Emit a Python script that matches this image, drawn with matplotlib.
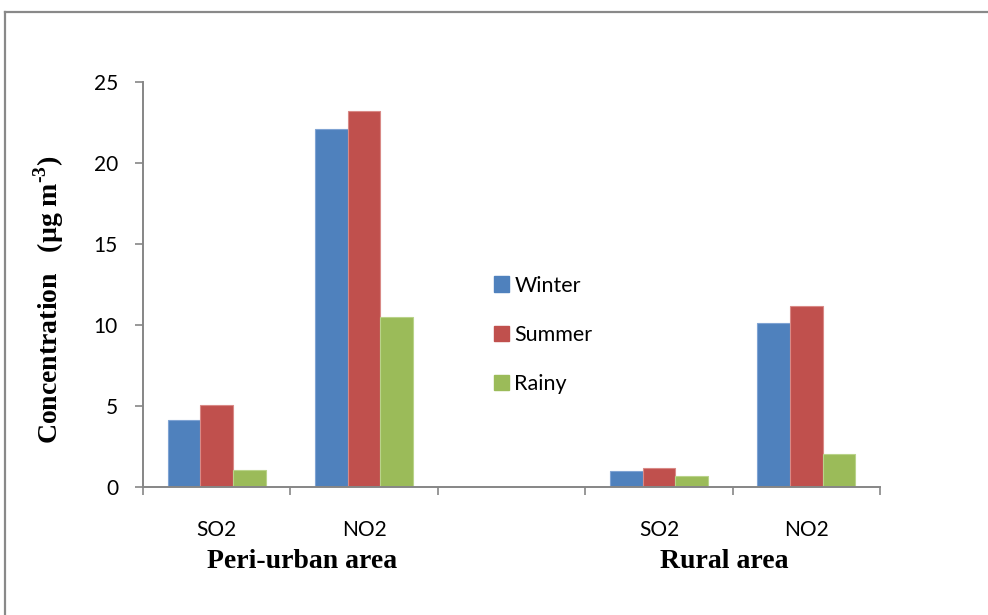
import matplotlib
matplotlib.use("Agg")
import matplotlib.pyplot as plt
import numpy as np
from matplotlib.patches import Patch
from matplotlib.lines import Line2D

plt.rcParams["mathtext.fontset"] = "custom"
plt.rcParams["mathtext.rm"] = "Liberation Serif:bold"
plt.rcParams["mathtext.bf"] = "Liberation Serif:bold"

categories = ["SO2", "NO2", "", "SO2", "NO2"]
series = ["Winter", "Summer", "Rainy"]
winter = [4.12, 22.1, np.nan, 1.0, 10.08]
summer = [5.02, 23.2, np.nan, 1.13, 11.13]
rainy = [1.05, 10.5, np.nan, 0.66, 2.04]
colors = ["#4F81BD", "#C0504D", "#9BBB59"]
edges = ["#7FA3D3", "#D98986", "#B9D38A"]
groups = ["Peri-urban area", "Rural area"]
yticks = [0, 5, 10, 15, 20, 25]

W, H = 988, 615
fig = plt.figure(figsize=(W / 100, H / 100), dpi=100)
ax = fig.add_axes([143 / W, 1 - 486.7 / H, (880 - 143) / W, (486.7 - 81.7) / H])

x = np.arange(len(categories))
bw = 0.6667 / 3
for i, (vals, c, e) in enumerate(zip([winter, summer, rainy], colors, edges)):
    ax.bar(x + (i - 1) * bw, vals, width=bw, color=c, edgecolor=e, linewidth=0.8,
           label=series[i], zorder=2)

ax.set_xlim(-0.5, len(categories) - 0.5)
ax.set_ylim(0, 25)
ax.set_yticks(yticks)
ax.set_yticklabels([str(t) for t in yticks], fontfamily="Lato", fontsize=15)
ax.set_xticks(np.arange(-0.5, len(categories), 1.0))
ax.set_xticklabels([])
ax.tick_params(axis="both", direction="out", length=6, width=1.2, color="#868686")
ax.tick_params(axis="y", pad=12)
for s in ["top", "right"]:
    ax.spines[s].set_visible(False)
for s in ["left", "bottom"]:
    ax.spines[s].set_color("#868686")
    ax.spines[s].set_linewidth(1.4)

trans = ax.get_xaxis_transform()
for xi, lab in zip(x, categories):
    if lab:
        ax.text(xi, 1 - (536.5 - 81.7) / (486.7 - 81.7), lab, ha="center",
                va="baseline", fontfamily="Lato", fontsize=15, transform=trans)

fig.text(302 / W, 1 - 568 / H, groups[0], ha="center", va="baseline",
         fontfamily="Liberation Serif", fontweight="bold", fontsize=20)
fig.text(724 / W, 1 - 568 / H, groups[1], ha="center", va="baseline",
         fontfamily="Liberation Serif", fontweight="bold", fontsize=20)

fig.text(49 / W, 1 - 300 / H, "Concentration   (µg m$^{\\text{-3}}$)", rotation=90,
         ha="center", va="center", fontfamily="Liberation Serif",
         fontweight="bold", fontsize=20)

handles = [Patch(facecolor=c, edgecolor=c) for c in colors]
leg = fig.legend(handles, series, loc="upper left",
                 bbox_to_anchor=(494 / W, 1 - 275.5 / H), frameon=False,
                 prop={"family": "Lato", "size": 15.5}, handlelength=0.7,
                 handleheight=0.7, handletextpad=0.25, labelspacing=1.37,
                 borderpad=0, borderaxespad=0)

fig.add_artist(Line2D([5 / W, 1.0], [1 - 12 / H, 1 - 12 / H], transform=fig.transFigure,
                      color="#898989", linewidth=1.6))
fig.add_artist(Line2D([5 / W, 5 / W], [0.0, 1 - 12 / H], transform=fig.transFigure,
                      color="#898989", linewidth=1.6))

fig.savefig("out.png", dpi=100)
